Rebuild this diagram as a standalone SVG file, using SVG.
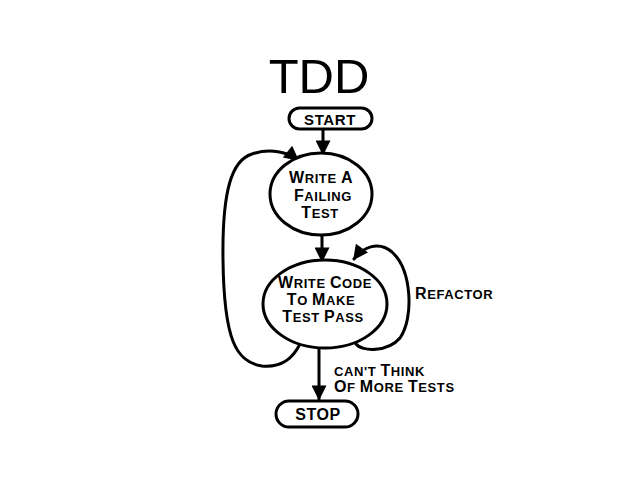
<svg xmlns="http://www.w3.org/2000/svg" width="638" height="479" viewBox="0 0 638 479">
<style>
.ln{fill:none;stroke:#000;stroke-width:3;stroke-linecap:round;stroke-linejoin:round}
.nd{fill:#fff;stroke:#000;stroke-width:3}
.t{font-family:"Liberation Sans",Arial,sans-serif;font-weight:bold;fill:#000;text-anchor:middle;letter-spacing:0.6px}
.big{font-size:16px}
.sm{font-size:13px}
.lab{font-family:"Liberation Sans",Arial,sans-serif;font-weight:bold;fill:#000;letter-spacing:0.6px}
</style>
<defs>
<marker id="ah" viewBox="0 0 10 10" refX="9" refY="5" markerWidth="5.5" markerHeight="5" orient="auto" markerUnits="strokeWidth">
<path d="M0,0 L10,5 L0,10 z" fill="#000"/>
</marker>
</defs>
<rect width="638" height="479" fill="#fff"/>
<text x="319" y="93" font-family="Liberation Sans,Arial,sans-serif" font-size="49" text-anchor="middle" fill="#000">TDD</text>

<g id="connectors">
<path class="ln" d="M323,130 L323,154" marker-end="url(#ah)"/>
<path class="ln" d="M322,236 L322,261" marker-end="url(#ah)"/>
<path class="ln" d="M319,349 L319,399" marker-end="url(#ah)"/>
<path class="ln" d="M356,344 C362,352 388,352 400,338 C414,318 412,270 392,252 C378,240 362,248 354,259" marker-end="url(#ah)"/>
<path class="ln" d="M300,344 C294,356 284,368 262,366 C236,362 224,340 223,260 C222,190 232,160 252,154 C270,148 288,152 298,160" marker-end="url(#ah)"/>
</g>

<g id="start">
<rect class="nd" x="289" y="108" width="83" height="21" rx="10.5"/>
<text class="t" x="330" y="125" font-size="15" letter-spacing="1.2">START</text>
</g>

<g id="write-failing-test">
<ellipse class="nd" cx="321" cy="194" rx="51" ry="41"/>
<text class="t" x="321" y="183"><tspan class="big">W</tspan><tspan class="sm">RITE </tspan><tspan class="big">A</tspan></text>
<text class="t" x="323" y="201"><tspan class="big">F</tspan><tspan class="sm">AILING</tspan></text>
<text class="t" x="320" y="218"><tspan class="big">T</tspan><tspan class="sm">EST</tspan></text>
</g>

<g id="write-code">
<ellipse class="nd" cx="325" cy="304" rx="62" ry="44"/>
<text class="t" x="325" y="288"><tspan class="big">W</tspan><tspan class="sm">RITE </tspan><tspan class="big">C</tspan><tspan class="sm">ODE</tspan></text>
<text class="t" x="321" y="305"><tspan class="big">T</tspan><tspan class="sm">O </tspan><tspan class="big">M</tspan><tspan class="sm">AKE</tspan></text>
<text class="t" x="323" y="322"><tspan class="big">T</tspan><tspan class="sm">EST </tspan><tspan class="big">P</tspan><tspan class="sm">ASS</tspan></text>
</g>

<g id="stop">
<rect class="nd" x="276" y="401" width="82" height="26" rx="13"/>
<text class="t" x="318" y="420" font-size="16" letter-spacing="2.5">STOP</text>
</g>

<text class="lab" x="415" y="299"><tspan class="big" font-size="15">R</tspan><tspan class="sm" font-size="12">EFACTOR</tspan></text>
<text class="lab" x="334" y="376"><tspan class="sm">CAN'T </tspan><tspan class="big">T</tspan><tspan class="sm">HINK</tspan></text>
<text class="lab" x="334" y="392"><tspan class="big">O</tspan><tspan class="sm">F </tspan><tspan class="big">M</tspan><tspan class="sm">ORE </tspan><tspan class="big">T</tspan><tspan class="sm">ESTS</tspan></text>
</svg>
